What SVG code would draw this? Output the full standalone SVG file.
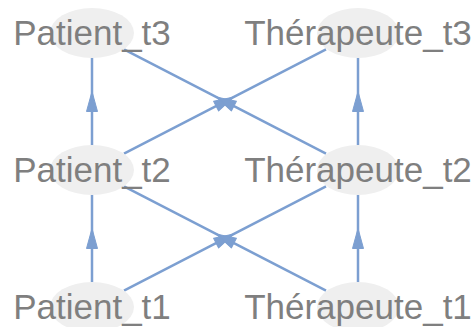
<svg xmlns="http://www.w3.org/2000/svg" xmlns:xlink="http://www.w3.org/1999/xlink" width="475" height="327" viewBox="0 0 475 327">
  <style>
    .edge { stroke: #7c9fd1; stroke-width: 2.5; fill: none; }
    .head { fill: #7c9fd1; stroke: #7c9fd1; stroke-width: 1; stroke-linejoin: round; }
    .node ellipse { fill: #efefef; }
    .node text { font-family: "Liberation Sans", Arial, sans-serif; font-size: 35px; fill: #7f7f7f; text-anchor: middle; }
  </style>
  <defs>
    <!-- arrowhead centred on its anchor point, pointing along +x -->
    <path id="ah" d="M10,0 L-10,-5.5 L-10,5.5 Z"/>
  </defs>

  <rect width="475" height="327" fill="#ffffff"/>

  <g id="edges">
    <!-- t2 -> t3 -->
    <line class="edge" x1="92" y1="145" x2="92" y2="58"/>
    <line class="edge" x1="358" y1="145" x2="358" y2="58"/>
    <line class="edge" x1="124" y1="153.6" x2="326" y2="49.4"/>
    <line class="edge" x1="326" y1="153.6" x2="124" y2="49.4"/>
    <!-- t1 -> t2 -->
    <line class="edge" x1="92" y1="282" x2="92" y2="195"/>
    <line class="edge" x1="358" y1="282" x2="358" y2="195"/>
    <line class="edge" x1="124" y1="290.6" x2="326" y2="186.4"/>
    <line class="edge" x1="326" y1="290.6" x2="124" y2="186.4"/>

    <!-- arrowheads at edge midpoints -->
    <use xlink:href="#ah" class="head" transform="translate(92,101.5) rotate(-90)"/>
    <use xlink:href="#ah" class="head" transform="translate(358,101.5) rotate(-90)"/>
    <use xlink:href="#ah" class="head" transform="translate(225,101.5) rotate(-27.25)"/>
    <use xlink:href="#ah" class="head" transform="translate(225,101.5) rotate(-152.75)"/>
    <use xlink:href="#ah" class="head" transform="translate(92,238.5) rotate(-90)"/>
    <use xlink:href="#ah" class="head" transform="translate(358,238.5) rotate(-90)"/>
    <use xlink:href="#ah" class="head" transform="translate(225,238.5) rotate(-27.25)"/>
    <use xlink:href="#ah" class="head" transform="translate(225,238.5) rotate(-152.75)"/>
  </g>

  <g id="patient_t3" class="node">
    <ellipse cx="92" cy="33" rx="42" ry="25"/>
    <text x="92" y="45">Patient_t3</text>
  </g>
  <g id="therapeute_t3" class="node">
    <ellipse cx="358" cy="33" rx="41" ry="25"/>
    <text x="358" y="45">Thérapeute_t3</text>
  </g>
  <g id="patient_t2" class="node">
    <ellipse cx="92" cy="170" rx="42" ry="25"/>
    <text x="92" y="182">Patient_t2</text>
  </g>
  <g id="therapeute_t2" class="node">
    <ellipse cx="358" cy="170" rx="41" ry="25"/>
    <text x="358" y="182">Thérapeute_t2</text>
  </g>
  <g id="patient_t1" class="node">
    <ellipse cx="92" cy="307" rx="42" ry="25"/>
    <text x="92" y="319">Patient_t1</text>
  </g>
  <g id="therapeute_t1" class="node">
    <ellipse cx="358" cy="307" rx="41" ry="25"/>
    <text x="358" y="319">Thérapeute_t1</text>
  </g>
</svg>
